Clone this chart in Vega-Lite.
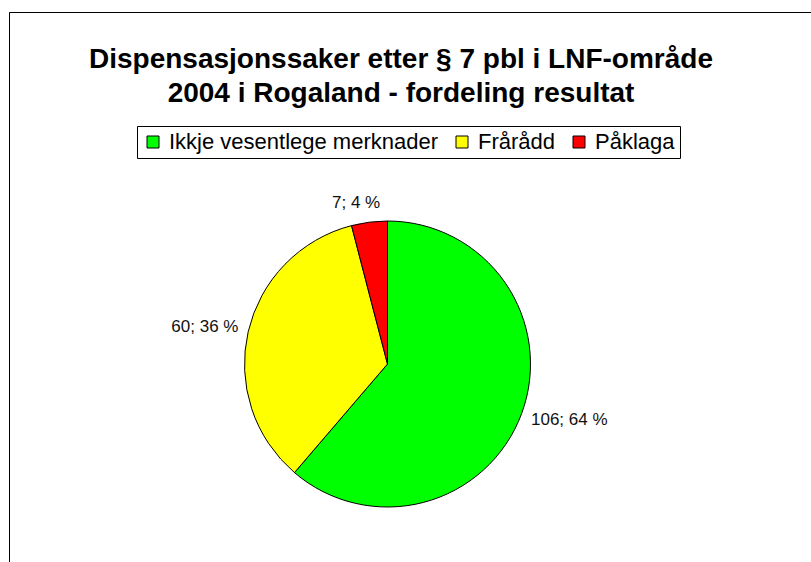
{
  "$schema": "https://vega.github.io/schema/vega-lite/v6.json",
  "width": 802,
  "height": 550,
  "autosize": {"type": "none"},
  "padding": {"left": 9, "top": 12, "right": 0, "bottom": 0},
  "background": "white",
  "view": {"stroke": "#000", "strokeWidth": 1, "strokeDash": [802, 1352, 550, 10], "fill": "white"},
  "config": {
    "font": "Liberation Sans"
  },
  "title": {
    "text": ["Dispensasjonssaker etter § 7 pbl i LNF-område", "2004 i Rogaland - fordeling resultat"],
    "anchor": "middle",
    "font": "Liberation Sans",
    "fontSize": 28,
    "fontWeight": "bold",
    "color": "#000",
    "offset": 0,
    "dy": 96,
    "dx": -9,
    "lineHeight": 34
  },
  "data": {
    "values": [
      {"kategori": "Ikkje vesentlege merknader", "antal": 106, "nr": 1, "etikett": "106; 64 %"},
      {"kategori": "Frårådd", "antal": 60, "nr": 2, "etikett": "60; 36 %"},
      {"kategori": "Påklaga", "antal": 7, "nr": 3, "etikett": "7; 4 %"}
    ]
  },
  "encoding": {
    "theta": {"field": "antal", "type": "quantitative", "stack": true},
    "order": {"field": "nr", "type": "quantitative"}
  },
  "layer": [
    {
      "mark": {"type": "arc", "outerRadius": 143, "stroke": "#000", "strokeWidth": 1, "xOffset": -22.5, "yOffset": 77},
      "encoding": {
        "color": {
          "field": "kategori",
          "type": "nominal",
          "scale": {
            "domain": ["Ikkje vesentlege merknader", "Frårådd", "Påklaga"],
            "range": ["#00FF00", "#FFFF00", "#FF0000"]
          },
          "legend": {
            "title": null,
            "orient": "none",
            "legendX": 128,
            "legendY": 114,
            "direction": "horizontal",
            "strokeColor": "#000",
            "padding": 5,
            "symbolType": "square",
            "symbolSize": 144,
            "symbolStrokeColor": "#000",
            "symbolStrokeWidth": 1,
            "labelFontSize": 22,
            "labelFont": "Liberation Sans",
            "labelColor": "#000",
            "labelOffset": 5,
            "columnPadding": 12,
            "labelLimit": 500
          }
        }
      }
    },
    {
      "mark": {
        "type": "text",
        "radius": 153,
        "fontSize": 17,
        "font": "Liberation Sans",
        "color": "#111",
        "align": {"expr": "datum.nr == 1 ? 'left' : (datum.nr == 2 ? 'right' : 'center')"},
        "baseline": {"expr": "datum.nr == 3 ? 'bottom' : 'middle'"},
        "dx": {"expr": "datum.nr == 3 ? -12 : 0"},
        "dy": {"expr": "datum.nr == 1 ? 3 : (datum.nr == 2 ? -3 : 0)"},
        "xOffset": -22.5,
        "yOffset": 77
      },
      "encoding": {
        "text": {"field": "etikett", "type": "nominal"}
      }
    }
  ]
}
